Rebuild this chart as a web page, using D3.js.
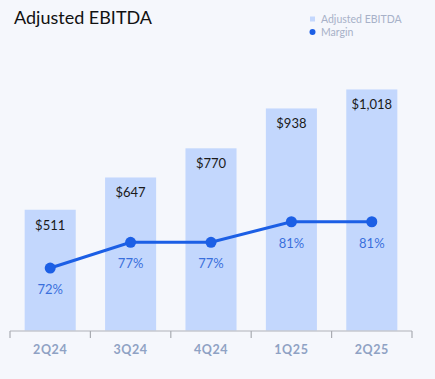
<!DOCTYPE html>
<html>
<head>
<meta charset="utf-8">
<script src="https://cdn.jsdelivr.net/npm/d3@7"></script>
<style>
  html, body { margin: 0; padding: 0; background: #f5f7fc; }
  svg { display: block; font-family: Lato, "Open Sans", sans-serif; }
</style>
</head>
<body>
<svg id="chart" width="435" height="379"></svg>
<script>
var quarters = ["2Q24", "3Q24", "4Q24", "1Q25", "2Q25"];
var ebitda = [511, 647, 770, 938, 1018];
var ebitdaLabels = ["$511", "$647", "$770", "$938", "$1,018"];
var margin = [72, 77, 77, 81, 81];
var marginLabels = ["72%", "77%", "77%", "81%", "81%"];

var width = 435, height = 379;
var baseY = 331;

var svg = d3.select("#chart");

svg.append("rect")
  .attr("width", width).attr("height", height)
  .attr("fill", "#f5f7fc");

// title
svg.append("text")
  .attr("x", 14).attr("y", 24)
  .attr("font-size", 18)
  .attr("fill", "#111")
  .text("Adjusted EBITDA");

// scales
var x = d3.scaleBand()
  .domain(quarters)
  .range([10, 412])
  .paddingInner(0.365)
  .paddingOuter(0.1825);

var y = d3.scaleLinear()
  .domain([0, 1100])
  .range([baseY, 70]);

var yM = d3.scaleLinear()
  .domain([70, 85])
  .range([278.3, 201.2]);

// bars
svg.selectAll(".bar")
  .data(ebitda)
  .enter().append("rect")
  .attr("class", "bar")
  .attr("x", function(d, i) { return x(quarters[i]); })
  .attr("y", function(d) { return y(d); })
  .attr("width", x.bandwidth())
  .attr("height", function(d) { return baseY - y(d); })
  .attr("fill", "#c3d7fd");

// bar value labels
svg.selectAll(".barLabel")
  .data(ebitda)
  .enter().append("text")
  .attr("class", "barLabel")
  .attr("x", function(d, i) { return x(quarters[i]) + x.bandwidth() / 2; })
  .attr("y", function(d) { return y(d) + 20; })
  .attr("text-anchor", "middle")
  .attr("font-size", 13)
  .attr("fill", "#1a1a1a")
  .text(function(d, i) { return ebitdaLabels[i]; });

// axis
var xAxis = d3.axisBottom(x).tickSize(0).tickPadding(14);
var axisG = svg.append("g")
  .attr("transform", "translate(0," + baseY + ")")
  .call(xAxis);
axisG.select(".domain").remove();
axisG.selectAll("text")
  .attr("font-family", "Lato, sans-serif")
  .attr("font-size", 12.5)
  .attr("font-weight", "bold")
  .attr("letter-spacing", 0.6)
  .attr("fill", "#8fa2c4");

axisG.append("line")
  .attr("x1", 10).attr("x2", 412)
  .attr("y1", 0).attr("y2", 0)
  .attr("stroke", "#c6c9cf").attr("stroke-width", 1.5);

// boundaries between bands
var edges = quarters.map(function(q) { return x(q) - x.step() * x.paddingInner() / 2; });
edges.push(412);
edges[0] = 10;
axisG.selectAll(".edge")
  .data(edges)
  .enter().append("line")
  .attr("class", "edge")
  .attr("x1", function(d) { return d; }).attr("x2", function(d) { return d; })
  .attr("y1", 0).attr("y2", 7)
  .attr("stroke", "#a9acb2").attr("stroke-width", 1.2);

// margin line
var cx = function(d, i) { return x(quarters[i]) + x.bandwidth() / 2; };
var line = d3.line()
  .x(function(d, i) { return cx(d, i); })
  .y(function(d) { return yM(d); });

svg.append("path")
  .datum(margin)
  .attr("d", line)
  .attr("fill", "none")
  .attr("stroke", "#1c5fe5")
  .attr("stroke-width", 3);

svg.selectAll(".dot")
  .data(margin)
  .enter().append("circle")
  .attr("class", "dot")
  .attr("cx", cx)
  .attr("cy", function(d) { return yM(d); })
  .attr("r", 5.5)
  .attr("fill", "#1c5fe5");

svg.selectAll(".mLabel")
  .data(margin)
  .enter().append("text")
  .attr("class", "mLabel")
  .attr("x", cx)
  .attr("y", function(d) { return yM(d) + 26; })
  .attr("text-anchor", "middle")
  .attr("font-size", 13)
  .attr("fill", "#3a6fdc")
  .text(function(d, i) { return marginLabels[i]; });

// legend
var legend = svg.append("g");
legend.append("rect")
  .attr("x", 310).attr("y", 16.5)
  .attr("width", 5).attr("height", 5)
  .attr("fill", "#c3d7fd");
legend.append("text")
  .attr("x", 321).attr("y", 23)
  .attr("font-size", 10.5)
  .attr("fill", "#a7b1c8")
  .text("Adjusted EBITDA");
legend.append("circle")
  .attr("cx", 312.5).attr("cy", 32)
  .attr("r", 3)
  .attr("fill", "#1c5fe5");
legend.append("text")
  .attr("x", 321).attr("y", 35.5)
  .attr("font-size", 10.5)
  .attr("fill", "#a7b1c8")
  .text("Margin");
</script>
</body>
</html>
